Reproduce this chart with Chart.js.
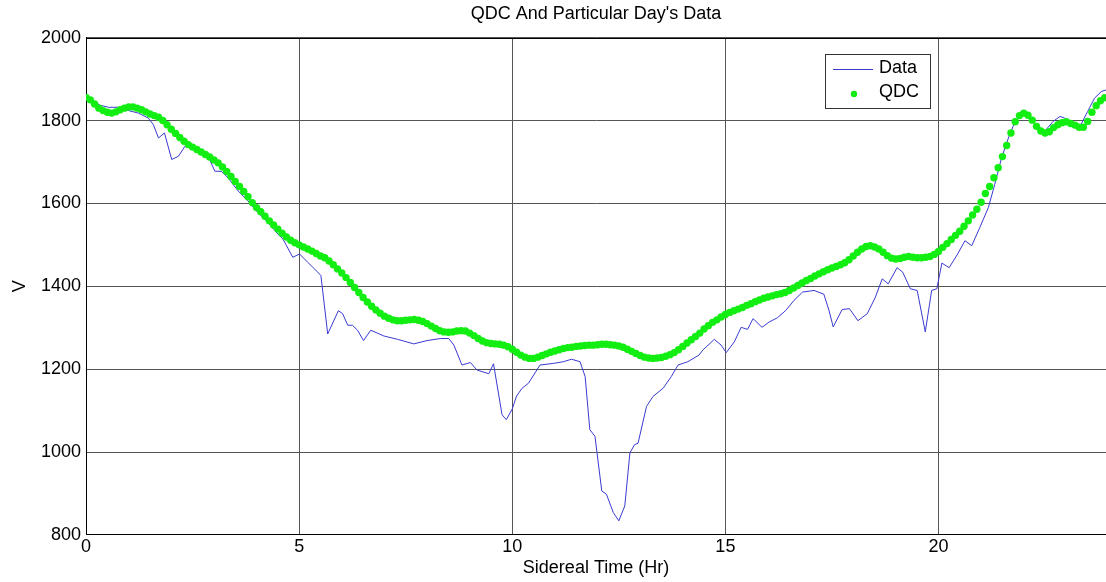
<!DOCTYPE html>
<html>
<head>
<meta charset="utf-8">
<title>QDC And Particular Day's Data</title>
<script src="https://cdn.jsdelivr.net/npm/chart.js@4.4.0/dist/chart.umd.min.js"></script>
<style>
  html, body { margin: 0; padding: 0; background: #fff; }
  #wrap { width: 1106px; height: 582px; }
</style>
</head>
<body>
<div id="wrap"><canvas id="qdcChart" width="1106" height="582"></canvas></div>
<script>
// ejes
var xTicks = [0, 5, 10, 15, 20];
var yTicks = [800, 1000, 1200, 1400, 1600, 1800, 2000];
var xMax = 23.93;

// Data: medicion del dia (hora sidérea, valor)
var dataTime = [
    0.00, 0.08, 0.20, 0.33, 0.53, 0.76, 1.00, 1.23, 1.46, 1.58,
    1.70, 1.84, 2.01, 2.17, 2.32, 2.55, 2.79, 2.90, 3.02, 3.18,
    3.33, 3.57, 3.80, 4.03, 4.27, 4.50, 4.62, 4.85, 5.01, 5.20,
    5.36, 5.51, 5.67, 5.92, 6.02, 6.14, 6.25, 6.37, 6.51, 6.68,
    6.99, 7.31, 7.69, 8.00, 8.32, 8.51, 8.63, 8.82, 9.02, 9.17,
    9.45, 9.56, 9.76, 9.86, 10.00, 10.10, 10.23, 10.38, 10.65, 10.97,
    11.20, 11.39, 11.59, 11.71, 11.82, 11.94, 12.10, 12.21, 12.37, 12.50,
    12.64, 12.76, 12.87, 12.95, 13.15, 13.30, 13.54, 13.73, 13.89, 14.12,
    14.38, 14.47, 14.74, 14.90, 15.02, 15.21, 15.37, 15.52, 15.65, 15.86,
    16.03, 16.22, 16.42, 16.61, 16.81, 17.08, 17.31, 17.43, 17.53, 17.74,
    17.91, 18.11, 18.33, 18.52, 18.68, 18.82, 19.03, 19.16, 19.34, 19.50,
    19.69, 19.84, 19.96, 20.08, 20.25, 20.45, 20.62, 20.78, 20.97, 21.17,
    21.32, 21.48, 21.64, 21.75, 21.87, 21.99, 22.14, 22.34, 22.49, 22.69,
    22.85, 22.96, 23.12, 23.30, 23.50, 23.66, 23.82, 23.93
];
var dataValue = [
    1860, 1856, 1845, 1837, 1832, 1832, 1824, 1818, 1806, 1790,
    1758, 1770, 1706, 1714, 1738, 1730, 1718, 1706, 1678, 1677,
    1662, 1630, 1606, 1578, 1554, 1526, 1514, 1470, 1478, 1458,
    1442, 1426, 1285, 1341, 1334, 1306, 1306, 1294, 1269, 1294,
    1280, 1272, 1261, 1269, 1274, 1274, 1258, 1210, 1216, 1198,
    1189, 1213, 1090, 1078, 1104, 1135, 1154, 1166, 1210, 1214,
    1218, 1224, 1218, 1182, 1054, 1038, 906, 898, 854, 834,
    870, 998, 1018, 1021, 1110, 1134, 1154, 1182, 1210, 1218,
    1234, 1246, 1272, 1258, 1240, 1266, 1301, 1296, 1322, 1301,
    1314, 1324, 1342, 1366, 1386, 1390, 1381, 1342, 1302, 1344,
    1346, 1317, 1334, 1374, 1418, 1406, 1445, 1434, 1394, 1390,
    1290, 1390, 1394, 1456, 1445, 1478, 1510, 1498, 1542, 1590,
    1646, 1710, 1758, 1786, 1806, 1818, 1806, 1786, 1774, 1798,
    1810, 1806, 1790, 1782, 1822, 1854, 1870, 1874
];

// QDC: un valor cada 0.1 h desde las 0 h (una fila = una hora)
var qdcStep = 0.1;
var qdcValue = [
    1856, 1850, 1840, 1830, 1824, 1820, 1818, 1821, 1826, 1830,
    1833, 1833, 1830, 1826, 1821, 1816, 1812, 1808, 1800, 1790,
    1779, 1769, 1759, 1750, 1742, 1736, 1730, 1724, 1718, 1712,
    1705, 1698, 1688, 1677, 1665, 1653, 1641, 1629, 1616, 1602,
    1590, 1580, 1569, 1558, 1548, 1538, 1528, 1519, 1511, 1505,
    1500, 1495, 1490, 1485, 1479, 1473, 1469, 1461, 1452, 1442,
    1432, 1421, 1409, 1397, 1385, 1373, 1362, 1352, 1343, 1335,
    1328, 1323, 1319, 1317, 1317, 1318, 1319, 1320, 1318, 1315,
    1310, 1304, 1298, 1293, 1290, 1289, 1290, 1292, 1293, 1292,
    1287, 1281, 1274, 1268, 1264, 1262, 1261, 1260, 1258, 1254,
    1248, 1241, 1234, 1229, 1226, 1226, 1229, 1233, 1237, 1241,
    1244, 1247, 1250, 1252, 1253, 1255, 1256, 1257, 1258, 1258,
    1259, 1260, 1260, 1259, 1258, 1256, 1253, 1248, 1243, 1238,
    1233, 1229, 1227, 1226, 1227, 1228, 1231, 1235, 1240, 1247,
    1255, 1263, 1271, 1279, 1287, 1297, 1305, 1313, 1319, 1326,
    1332, 1337, 1341, 1345, 1349, 1354, 1358, 1363, 1367, 1371,
    1374, 1377, 1380, 1382, 1385, 1390, 1396, 1402, 1408, 1414,
    1419, 1425, 1430, 1435, 1440, 1444, 1448, 1452, 1457, 1464,
    1473, 1482, 1490, 1496, 1498, 1495, 1490, 1482, 1474, 1468,
    1466, 1467, 1470, 1472, 1470, 1469, 1469, 1470, 1472, 1477,
    1484, 1494, 1503, 1513, 1523, 1533, 1545, 1558, 1572, 1586,
    1603, 1624, 1641, 1662, 1686, 1713, 1740, 1770, 1797, 1812,
    1818, 1813, 1801, 1786, 1775, 1770, 1773, 1783, 1790, 1795,
    1797, 1793, 1789, 1784, 1784, 1798, 1820, 1836, 1848, 1855
];

var FONT = "'Liberation Sans', Arial, Helvetica, sans-serif";
Chart.defaults.font.family = FONT;
Chart.defaults.color = '#000';

var dataPoints = dataTime.map(function(t, i) { return {x: t, y: dataValue[i]}; });
var qdcPoints = qdcValue.map(function(v, i) { return {x: +(i * qdcStep).toFixed(2), y: v}; });

// marco del area y titulo centrado sobre el grafico (estilo matlab)
var marcoPlugin = {
    id: 'marco',
    afterLayout: function(chart) {
        var a = chart.chartArea;
        if (chart.titleBlock) {
            chart.titleBlock.left = a.left;
            chart.titleBlock.right = a.right;
        }
    },
    beforeDatasetsDraw: function(chart) {
        var a = chart.chartArea, ctx = chart.ctx;
        ctx.save();
        ctx.strokeStyle = '#000';
        ctx.lineWidth = 1;
        ctx.strokeRect(Math.round(a.left) + 0.5, Math.round(a.top) + 0.5,
            Math.round(a.right - a.left), Math.round(a.bottom - a.top) - 1);
        ctx.restore();
    }
};

// leyenda dentro del grafico, arriba a la derecha
var leyendaPlugin = {
    id: 'leyenda',
    afterDraw: function(chart) {
        var ctx = chart.ctx, a = chart.chartArea;
        var ds = chart.data.datasets;
        var x = Math.round(a.right) - 281, y = Math.round(a.top) + 16;
        var w = 105, h = 54;
        ctx.save();
        ctx.fillStyle = '#fff';
        ctx.fillRect(x, y, w, h);
        ctx.strokeStyle = '#333';
        ctx.lineWidth = 1;
        ctx.strokeRect(x + 0.5, y + 0.5, w, h);

        ctx.font = '18px ' + FONT;
        ctx.fillStyle = '#000';
        ctx.textBaseline = 'middle';
        ctx.textAlign = 'left';

        // Data
        ctx.strokeStyle = ds[0].borderColor;
        ctx.beginPath();
        ctx.moveTo(x + 8, y + 15.5);
        ctx.lineTo(x + 48, y + 15.5);
        ctx.stroke();
        ctx.fillText(ds[0].label, x + 54, y + 14);

        // QDC
        ctx.fillStyle = ds[1].backgroundColor;
        ctx.beginPath();
        ctx.arc(x + 29, y + 40, 3.2, 0, Math.PI * 2);
        ctx.fill();
        ctx.fillStyle = '#000';
        ctx.fillText(ds[1].label, x + 54, y + 38);
        ctx.restore();
    }
};

function sinSeparador(value) {
    return String(value);
}

var ctx = document.getElementById('qdcChart');
var qdcChart = new Chart(ctx, {
    type: 'scatter',
    data: {
        datasets: [{
            label: 'Data',
            data: dataPoints,
            showLine: true,
            borderColor: 'rgb(58, 58, 210)',
            borderWidth: 1,
            pointRadius: 0,
            tension: 0,
            order: 1
        }, {
            label: 'QDC',
            data: qdcPoints,
            showLine: false,
            backgroundColor: '#12ee12',
            borderWidth: 0,
            pointRadius: 3.7,
            pointStyle: 'circle',
            order: 0
        }]
    },
    options: {
        responsive: false,
        animation: false,
        devicePixelRatio: 1,
        layout: { autoPadding: false, padding: { left: 0, right: -1, top: 0, bottom: 0 } },
        plugins: {
            legend: { display: false },
            tooltip: { enabled: false },
            title: {
                display: true,
                text: "QDC And Particular Day's Data",
                color: '#000',
                font: { size: 18, weight: 'normal', lineHeight: 1 },
                padding: { top: 5.5, bottom: 14.2 }
            }
        },
        scales: {
            x: {
                type: 'linear',
                min: 0,
                max: xMax,
                afterBuildTicks: function(axis) {
                    axis.ticks = xTicks.map(function(v) { return {value: v}; });
                },
                grid: { color: '#555', lineWidth: 1, drawTicks: false },
                border: { display: true, color: '#000' },
                ticks: {
                    padding: 2, color: '#000', maxRotation: 0, autoSkip: false,
                    font: { size: 18, lineHeight: 1.1 },
                    callback: sinSeparador
                },
                title: {
                    display: true,
                    text: 'Sidereal Time (Hr)',
                    color: '#000',
                    font: { size: 18, lineHeight: 1 },
                    padding: { top: 0, bottom: 5.3 }
                }
            },
            y: {
                type: 'linear',
                min: 800,
                max: 2000,
                afterBuildTicks: function(axis) {
                    axis.ticks = yTicks.map(function(v) { return {value: v}; });
                },
                grid: { color: '#555', lineWidth: 1, drawTicks: false },
                border: { display: true, color: '#000' },
                ticks: {
                    padding: 5, color: '#000',
                    font: { size: 18, lineHeight: 1.2 },
                    callback: sinSeparador
                },
                title: {
                    display: true,
                    text: 'V',
                    color: '#000',
                    font: { size: 18, lineHeight: 1 },
                    padding: { top: 11, bottom: 7 }
                }
            }
        }
    },
    plugins: [marcoPlugin, leyendaPlugin]
});
</script>
</body>
</html>
